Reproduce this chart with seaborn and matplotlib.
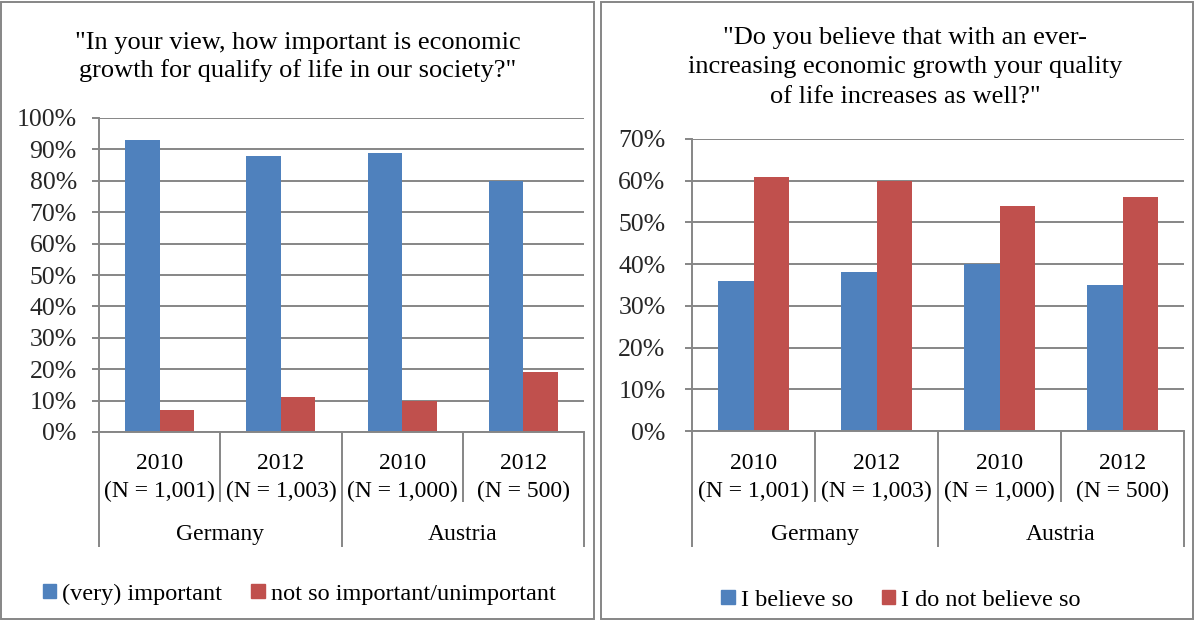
import matplotlib
matplotlib.use("Agg")
import matplotlib.pyplot as plt
import matplotlib.patches as mpatches
from matplotlib.ticker import PercentFormatter, MultipleLocator
import seaborn as sns
import pandas as pd

# ---- data ----
years = ["2010", "2012", "2010", "2012"]
samples = ["(N = 1,001)", "(N = 1,003)", "(N = 1,000)", "(N = 500)"]
countries = ["Germany", "Austria"]
cat_ids = ["DE2010", "DE2012", "AT2010", "AT2012"]

left_title = ["\"In your view, how important is economic",
              "growth for qualify of life in our society?\""]
left_series = ["(very) important", "not so important/unimportant"]
left_important = [0.93, 0.88, 0.89, 0.80]
left_not = [0.07, 0.11, 0.10, 0.19]

right_title = ["\"Do you believe that with an ever-",
               "increasing economic growth your quality",
               "of life increases as well?\""]
right_series = ["I believe so", "I do not believe so"]
right_yes = [0.36, 0.38, 0.40, 0.35]
right_no = [0.61, 0.60, 0.54, 0.56]

BLUE = "#4F81BD"
RED = "#C0504D"
GRID = "#868686"

sns.set_theme(style="white")
plt.rcParams["font.family"] = ["Liberation Serif", "DejaVu Serif"]
plt.rcParams["text.color"] = "black"

W, H = 1195, 621
fig = plt.figure(figsize=(W / 100, H / 100), dpi=100)
FS_TICK = 18.5
FS_X = 17
FS_TITLE = 19
FS_LEG = 17.5


def px_axes(x0, x1, ytop, ybot):
    return fig.add_axes([x0 / W, 1 - ybot / H, (x1 - x0) / W, (ybot - ytop) / H])


def draw_panel(ax, series_names, v1, v2, ymax, title_lines, title_x, title_baselines,
               legend_xy, ytop, ybot, pad):
    df = pd.DataFrame({
        "cat": cat_ids * 2,
        "series": [series_names[0]] * 4 + [series_names[1]] * 4,
        "value": list(v1) + list(v2),
    })
    sns.barplot(data=df, x="cat", y="value", hue="series", order=cat_ids,
                hue_order=series_names, palette=[BLUE, RED], width=0.57,
                saturation=1, ax=ax, legend=False, edgecolor="none", linewidth=0)
    ax.set_xlim(-0.5, 3.5)
    ax.set_ylim(0, ymax)
    ax.yaxis.set_major_locator(MultipleLocator(0.1))
    ax.yaxis.set_major_formatter(PercentFormatter(1.0, decimals=0))
    ax.set_xlabel("")
    ax.set_ylabel("")
    ax.set_xticks([])
    ax.grid(axis="y", color=GRID, linewidth=1.4)
    ax.set_axisbelow(True)
    for s in ["top", "right"]:
        ax.spines[s].set_visible(False)
    for s in ["left", "bottom"]:
        ax.spines[s].set_color(GRID)
        ax.spines[s].set_linewidth(1.4)
    ax.tick_params(axis="y", which="major", left=True, length=5, width=1.4,
                   color=GRID, labelsize=FS_TICK, pad=pad)

    h = ybot - ytop
    tr = ax.get_xaxis_transform()

    def fy(py):
        return -(py - ybot) / h

    # category divider lines below the axis
    for xb, ext in [(-0.5, 547), (0.5, 502), (1.5, 547), (2.5, 502), (3.5, 547)]:
        ax.plot([xb, xb], [0, fy(ext)], transform=tr, color=GRID, lw=1.4,
                clip_on=False, solid_capstyle="butt")
    for i in range(4):
        ax.text(i, fy(469), years[i], transform=tr, ha="center", va="baseline", fontsize=FS_X)
        ax.text(i, fy(497), samples[i], transform=tr, ha="center", va="baseline", fontsize=FS_X)
    for j, c in enumerate(countries):
        ax.text(0.5 + 2 * j, fy(540), c, transform=tr, ha="center", va="baseline", fontsize=FS_X)

    for line, yb in zip(title_lines, title_baselines):
        fig.text(title_x / W, 1 - yb / H, line, ha="center", va="baseline",
                 fontsize=FS_TITLE)

    handles = [mpatches.Patch(color=BLUE, label=series_names[0]),
               mpatches.Patch(color=RED, label=series_names[1])]
    fig.legend(handles=handles, loc="center", ncol=2,
               bbox_to_anchor=(legend_xy[0] / W, 1 - legend_xy[1] / H),
               frameon=False, fontsize=FS_LEG, handlelength=0.55, handleheight=0.55,
               handletextpad=0.25, columnspacing=1.2, borderaxespad=0, borderpad=0)


# panel frames
fig.patches.append(mpatches.Rectangle((1 / W, 1 - 619 / H), 593 / W, 617 / H,
                                      transform=fig.transFigure, fill=False,
                                      edgecolor=GRID, lw=1.4))
fig.patches.append(mpatches.Rectangle((601 / W, 1 - 619 / H), 592 / W, 617 / H,
                                      transform=fig.transFigure, fill=False,
                                      edgecolor=GRID, lw=1.4))

axL = px_axes(99, 584, 118, 432)
draw_panel(axL, left_series, left_important, left_not, 1.0, left_title,
           298, [49, 77], (299, 594), 118, 432, 11)

axR = px_axes(692, 1184, 139, 431)
draw_panel(axR, right_series, right_yes, right_no, 0.7, right_title,
           905, [44, 73.5, 103], (901, 600), 139, 431, 14)

fig.savefig("out.png", dpi=100)
